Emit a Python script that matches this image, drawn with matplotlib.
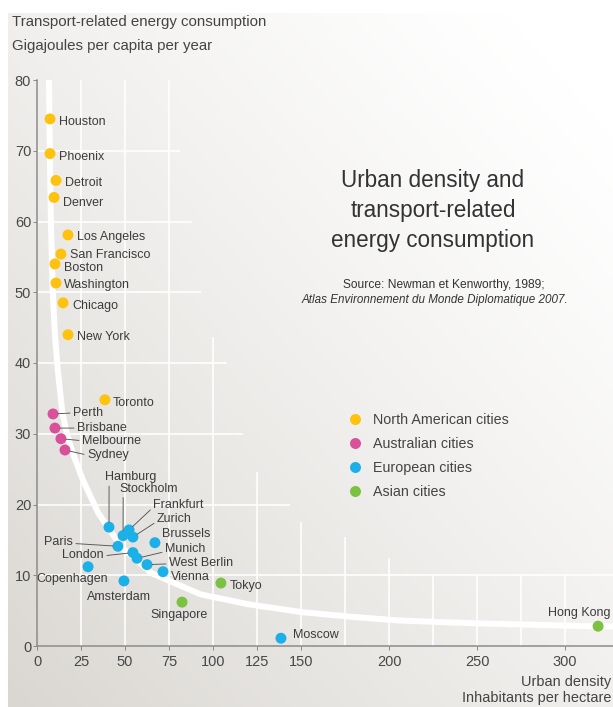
import numpy as np
import matplotlib
matplotlib.use("Agg")
import matplotlib.pyplot as plt
from matplotlib.colors import LinearSegmentedColormap

plt.rcParams["font.family"] = ["Liberation Sans", "DejaVu Sans"]

W, H = 613, 707

# city data (density in inhabitants/ha, energy in GJ per capita per year)
na_names = ["Houston", "Phoenix", "Detroit", "Denver", "Los Angeles", "San Francisco",
            "Boston", "Washington", "Chicago", "New York", "Toronto"]
na_x = [7.4, 7.4, 10.8, 9.7, 17.6, 13.6, 10.2, 10.8, 14.8, 17.6, 38.6]
na_y = [74.5, 69.6, 65.8, 63.4, 58.1, 55.4, 54.0, 51.3, 48.5, 44.0, 34.8]

au_names = ["Perth", "Brisbane", "Melbourne", "Sydney"]
au_x = [9.1, 10.2, 13.6, 15.9]
au_y = [32.8, 30.8, 29.3, 27.7]

eu_names = ["Hamburg", "Stockholm", "Frankfurt", "Zurich", "Paris", "London", "Munich",
            "Brussels", "West Berlin", "Vienna", "Copenhagen", "Amsterdam", "Moscow"]
eu_x = [40.9, 48.9, 52.3, 54.5, 46.0, 54.5, 56.8, 67.0, 62.5, 71.6, 29.0, 49.4, 138.6]
eu_y = [16.8, 15.6, 16.4, 15.4, 14.1, 13.2, 12.4, 14.6, 11.5, 10.5, 11.2, 9.2, 1.1]

as_names = ["Tokyo", "Singapore", "Hong Kong"]
as_x = [104.5, 82.4, 318.8]
as_y = [8.9, 6.2, 2.8]

# trend curve
curve_x = [6.8, 7.3, 7.9, 8.9, 10.2, 11.8, 14.4, 17.0, 20.0, 26.0, 34.8, 48.0,
           65.0, 93.0, 120.0, 150.0, 180.0, 206.0, 250.0, 314.0, 330.0]
curve_y = [80, 70, 60, 50.4, 44, 39, 33, 30, 27.5, 23.5, 18.8, 14.0,
           10.3, 7.3, 5.9, 4.8, 4.1, 3.6, 3.2, 2.8, 2.75]

groups = ["North American cities", "Australian cities", "European cities", "Asian cities"]
colors = ["#ffc20e", "#d9519b", "#1cb0e8", "#7cc142"]

xticks = [0, 25, 50, 75, 100, 125, 150, 200, 250, 300]
yticks = [0, 10, 20, 30, 40, 50, 60, 70, 80]

# staircase grid
hgrid_y = [10, 20, 30, 40, 50, 60, 70]
hgrid_end = [330, 144, 117, 108, 93, 88, 81]
vgrid_x = [25, 50, 75, 100, 125, 150, 175, 200, 225, 250, 275, 300]
vgrid_end = [80, 80, 80, 43.7, 24.6, 17.5, 15.4, 12.4, 10, 10, 10, 10]

# label offsets in px: dx, dy, ha, leader relpos
label_pos = {
    "Houston": (9, -3, "left", None), "Phoenix": (9, -3, "left", None),
    "Detroit": (9, -3, "left", None), "Denver": (9, -6, "left", None),
    "Los Angeles": (9, -2, "left", None), "San Francisco": (9, -1, "left", None),
    "Boston": (9, -4, "left", None), "Washington": (8, -2, "left", None),
    "Chicago": (9, -3, "left", None), "New York": (9, -2, "left", None),
    "Toronto": (8, -3, "left", None),
    "Perth": (20, 1, "left", (0, 0.5)), "Brisbane": (22, 0, "left", (0, 0.5)),
    "Melbourne": (21, -2, "left", (0, 0.5)), "Sydney": (22, -5, "left", (0, 0.5)),
    "Hamburg": (-4, 50, "left", (0.08, 0)), "Stockholm": (-4, 47, "left", (0.07, 0)),
    "Frankfurt": (24, 25, "left", (0, 0.3)), "Zurich": (24, 18, "left", (0, 0.3)),
    "Paris": (-45, 4, "right", (1, 0.4)), "London": (-29, -2, "right", (1, 0.4)),
    "Brussels": (7, 9, "left", None), "Munich": (28, 9, "left", (0, 0.3)),
    "West Berlin": (22, 2, "left", (0, 0.4)), "Vienna": (8, -5, "left", None),
    "Copenhagen": (-16, -12, "center", None), "Amsterdam": (-5, -16, "center", None),
    "Moscow": (12, 3, "left", None),
    "Tokyo": (9, -3, "left", None), "Singapore": (-3, -13, "center", None),
    "Hong Kong": (-50, 13, "left", None),
}

fig = plt.figure(figsize=(W / 72, H / 72), dpi=72)

# gradient backdrop
bg = fig.add_axes([8 / W, 0, 1 - 8 / W, 1 - 13 / H], zorder=-2)
u, v = np.meshgrid(np.linspace(0, 1, 300), np.linspace(1, 0, 300))
d = ((1 - u) + (1 - v)) / 2
d = np.clip((d - 0.08) / 0.92, 0, 1) ** 1.2
cmap = LinearSegmentedColormap.from_list("bg", ["#ffffff", "#dad7d2"])
bg.imshow(d, cmap=cmap, extent=[0, 1, 0, 1], aspect="auto", vmin=0, vmax=1)
bg.axis("off")

ax = fig.add_axes([37 / W, (H - 646) / H, (W - 37) / W, (646 - 80) / H])
ax.set_facecolor("none")
ax.set_xlim(0, (W - 37) / 1.76)
ax.set_ylim(0, 80)

ax.hlines(hgrid_y, 0, hgrid_end, color="white", lw=1.6, zorder=1)
ax.vlines(vgrid_x, 0, vgrid_end, color="white", lw=1.6, zorder=1)
ax.plot(curve_x, curve_y, color="white", lw=6, solid_capstyle="butt", zorder=2)

txt_col = "#3c3c3c"
all_sets = [(na_names, na_x, na_y), (au_names, au_x, au_y),
            (eu_names, eu_x, eu_y), (as_names, as_x, as_y)]
for (names, xs, ys), c in zip(all_sets, colors):
    ax.scatter(xs, ys, s=120, color=c, edgecolors="none", zorder=4, clip_on=False)
    for n, x, y in zip(names, xs, ys):
        dx, dy, ha, rel = label_pos[n]
        kw = {}
        if rel is not None:
            kw["arrowprops"] = dict(arrowstyle="-", color="#555555", lw=0.9,
                                    shrinkA=1, shrinkB=5, relpos=rel)
        ax.annotate(n, (x, y), xytext=(dx, dy), textcoords="offset points",
                    ha=ha, va="center", fontsize=12.5, color=txt_col,
                    annotation_clip=False, zorder=5, **kw)

for s in ["top", "right"]:
    ax.spines[s].set_visible(False)
for s in ["left", "bottom"]:
    ax.spines[s].set_color("#8a8a8a")
    ax.spines[s].set_linewidth(1.5)
ax.set_xticks(xticks)
ax.set_yticks(yticks)
ax.tick_params(length=4, width=1, color="#8a8a8a", labelsize=14.5,
               labelcolor="#484848")
ax.tick_params(axis="y", pad=2)
ax.tick_params(axis="x", pad=5)


def ftext(x, y, s, **kw):
    fig.text(x / W, 1 - y / H, s, va="center", **kw)


ftext(12, 22, "Transport-related energy consumption", fontsize=15, color="#444444")
ftext(12, 46, "Gigajoules per capita per year", fontsize=15, color="#444444")

for i, line in enumerate(["Urban density and", "transport-related", "energy consumption"]):
    ftext(433, 180 + 30.5 * i, line, fontsize=22.5, ha="center", color="#333333")
ftext(444, 285, "Source: Newman et Kenworthy, 1989;", fontsize=12, ha="center",
      color="#333333")
ftext(435, 300, "Atlas Environnement du Monde Diplomatique 2007.", fontsize=11.6,
      ha="center", style="italic", color="#333333")

for i, (g, c) in enumerate(zip(groups, colors)):
    yy = 419 + 24 * i
    fig.add_artist(plt.Line2D([355 / W], [1 - yy / H], marker="o", markersize=11,
                              color=c, markeredgewidth=0, transform=fig.transFigure))
    ftext(373, yy + 1, g, fontsize=14.3, color="#444444")

ftext(611, 682, "Urban density", fontsize=14.5, ha="right", color="#444444")
ftext(611, 698, "Inhabitants per hectare", fontsize=14.5, ha="right", color="#444444")

fig.savefig("out.png", dpi=72)
